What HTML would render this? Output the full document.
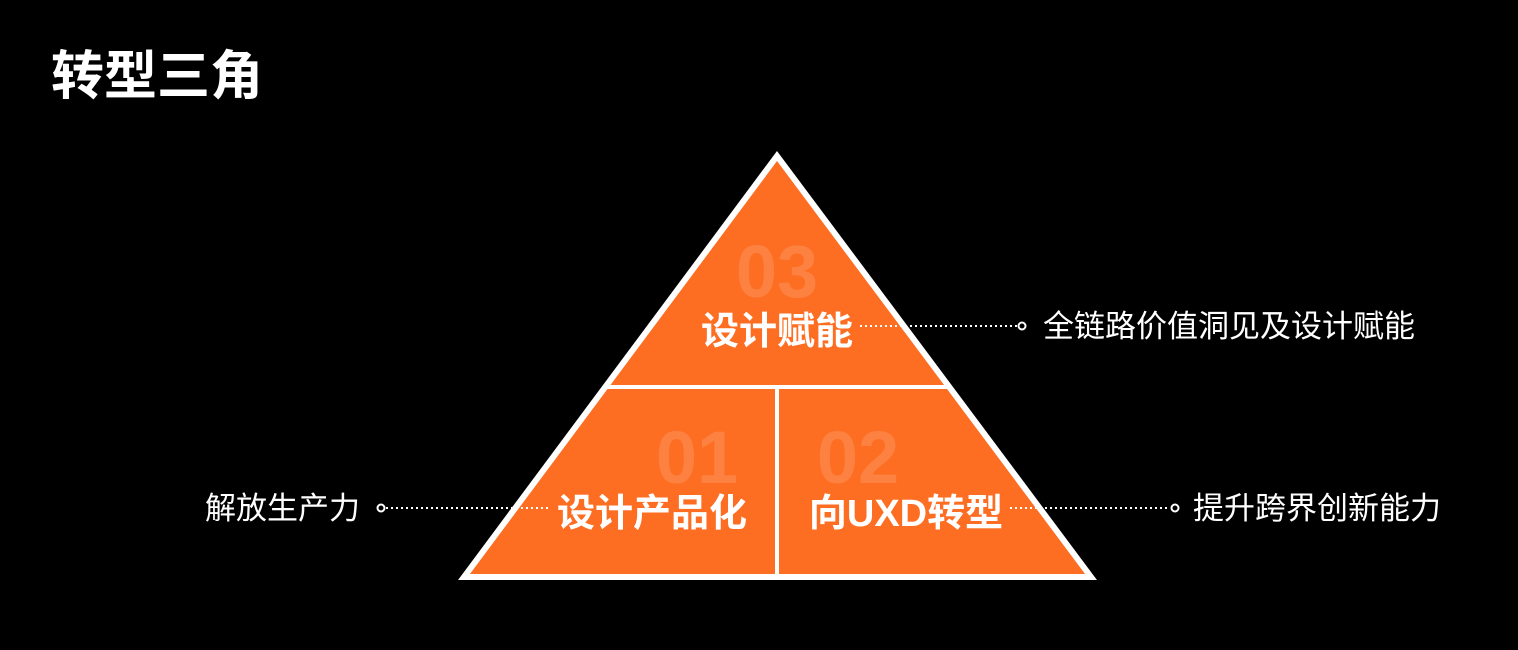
<!DOCTYPE html>
<html><head><meta charset="utf-8"><style>
html,body{margin:0;padding:0;background:#000;}
body{width:1518px;height:650px;overflow:hidden;position:relative;}
svg{position:absolute;left:0;top:0;}
text{font-family:"Liberation Sans","Noto Sans CJK SC",sans-serif;}
</style></head><body>
<svg width="1518" height="650" viewBox="0 0 1518 650">
<text x="51" y="94" font-size="53" font-weight="bold" fill="#fff">转型三角</text>
<polygon points="777,156 464,577 1091,577" fill="#FD6D22" stroke="#fff" stroke-width="6" stroke-linejoin="miter"/>
<line x1="605" y1="387" x2="948" y2="387" stroke="#fff" stroke-width="4"/>
<line x1="777" y1="387" x2="777" y2="577" stroke="#fff" stroke-width="4"/>
<g font-weight="bold" font-size="74" fill="#fff" fill-opacity="0.15" text-anchor="middle">
<text x="777" y="297">03</text>
<text x="697" y="483">01</text>
<text x="858" y="483">02</text>
</g>
<g font-weight="bold" font-size="38" fill="#fff" text-anchor="middle">
<text x="777" y="344">设计赋能</text>
<text x="652" y="526">设计产品化</text>
<text x="906" y="526">向UXD转型</text>
</g>
<g stroke="#fff" stroke-width="2" stroke-dasharray="2,3" fill="none">
<line x1="860" y1="326" x2="1017" y2="326"/>
<line x1="386" y1="508" x2="548" y2="508"/>
<line x1="1010" y1="508" x2="1170" y2="508"/>
</g>
<g stroke="#fff" stroke-width="2" fill="none">
<circle cx="1022" cy="326" r="3.5"/>
<circle cx="381" cy="508" r="3.5"/>
<circle cx="1175" cy="508" r="3.5"/>
</g>
<g font-size="31" fill="#fff">
<text x="1043" y="337">全链路价值洞见及设计赋能</text>
<text x="205" y="519">解放生产力</text>
<text x="1193" y="519">提升跨界创新能力</text>
</g>
</svg>
</body></html>
